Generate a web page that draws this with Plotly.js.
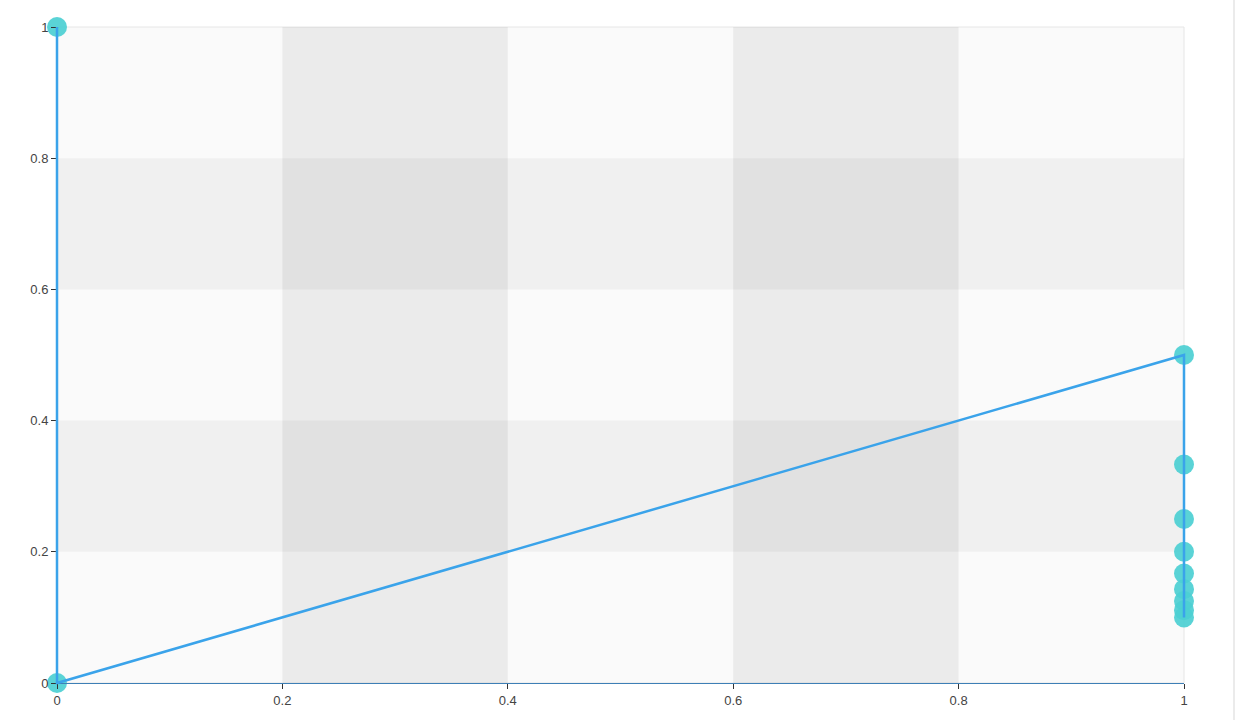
<!DOCTYPE html>
<html>
<head>
<meta charset="utf-8">
<script src="https://cdn.plot.ly/plotly-3.0.1.min.js"></script>
<style>html,body{margin:0;padding:0;background:#fff;}#chart{width:1236px;height:720px;}</style>
</head>
<body>
<div id="chart"></div>
<script>
var xValues = [0, 0, 1, 1, 1, 1, 1, 1, 1, 1, 1];
var yValues = [1, 0, 0.5, 0.333, 0.25, 0.2, 0.167, 0.143, 0.125, 0.111, 0.1];
var xTicks = [0, 0.2, 0.4, 0.6, 0.8, 1];
var yTicks = [0, 0.2, 0.4, 0.6, 0.8, 1];
var xTickLabels = ['0', '0.2', '0.4', '0.6', '0.8', '1'];
var yTickLabels = ['0', '0.2', '0.4', '0.6', '0.8', '1'];
var bandEdges = [[0.2, 0.4], [0.6, 0.8]];

// geometry: plot area 57..1184 (x), 27..683 (y); line subplot padded by P px so lines are not clipped
var W = 1236, H = 720, L = 57, R = 52, T = 27, B = 37, P = 6;
var boxW = W - (L - P) - (R - P), boxH = H - (T - P) - (B - P);
var plotW = W - L - R, plotH = H - T - B;

var shapes = [];
shapes.push({type: 'rect', layer: 'below', xref: 'x domain', yref: 'y domain', x0: 0, x1: 1, y0: 0, y1: 1,
  fillcolor: '#fafafa', line: {color: '#e6e6e6', width: 1}});
bandEdges.forEach(function (b) {
  shapes.push({type: 'rect', layer: 'below', xref: 'x', yref: 'y domain', x0: b[0], x1: b[1], y0: 0, y1: 1,
    fillcolor: 'rgba(0,0,0,0.06)', line: {width: 0}});
  shapes.push({type: 'rect', layer: 'below', xref: 'x domain', yref: 'y', x0: 0, x1: 1, y0: b[0], y1: b[1],
    fillcolor: 'rgba(0,0,0,0.04)', line: {width: 0}});
});
shapes.push({type: 'line', xref: 'x domain', yref: 'y domain', x0: (1234 - L) / plotW, x1: (1234 - L) / plotW, y0: -0.1, y1: 1.1,
  line: {color: '#e4e4e4', width: 1.5}});

var traces = [
  {x: xValues, y: yValues, type: 'scatter', mode: 'markers', hoverinfo: 'skip', cliponaxis: false,
   xaxis: 'x', yaxis: 'y',
   marker: {size: 20, color: '#4ccfd3', opacity: 0.92, line: {width: 0}}},
  {x: xValues, y: yValues, type: 'scatter', mode: 'lines', cliponaxis: false,
   xaxis: 'x2', yaxis: 'y2',
   line: {color: '#3aa3ea', width: 2.5}}
];

var axisFont = {family: '"Liberation Sans", Arial, sans-serif', size: 13, color: '#444'};

var layout = {
  width: W, height: H,
  margin: {l: L - P, r: R - P, t: T - P, b: B - P, pad: 0},
  paper_bgcolor: '#ffffff',
  plot_bgcolor: 'rgba(0,0,0,0)',
  showlegend: false,
  xaxis: {domain: [P / boxW, 1 - P / boxW], anchor: 'y', range: [0, 1], tickvals: xTicks, ticktext: xTickLabels,
    showgrid: false, zeroline: false,
    showline: true, linecolor: '#3d7fb6', linewidth: 1, ticks: 'outside', ticklen: 5, tickcolor: '#333',
    tickfont: axisFont, fixedrange: true},
  yaxis: {domain: [P / boxH, 1 - P / boxH], anchor: 'x', range: [0, 1], tickvals: yTicks, ticktext: yTickLabels,
    showgrid: false, zeroline: false,
    showline: false, ticks: 'outside', ticklen: 5, tickcolor: '#333', tickfont: axisFont, fixedrange: true},
  xaxis2: {anchor: 'y2', domain: [0, 1], range: [-P / plotW, 1 + P / plotW], visible: false, fixedrange: true},
  yaxis2: {anchor: 'x2', domain: [0, 1], range: [-P / plotH, 1 + P / plotH], visible: false, fixedrange: true},
  shapes: shapes
};

Plotly.newPlot('chart', traces, layout, {displayModeBar: false, staticPlot: true});
</script>
</body>
</html>
